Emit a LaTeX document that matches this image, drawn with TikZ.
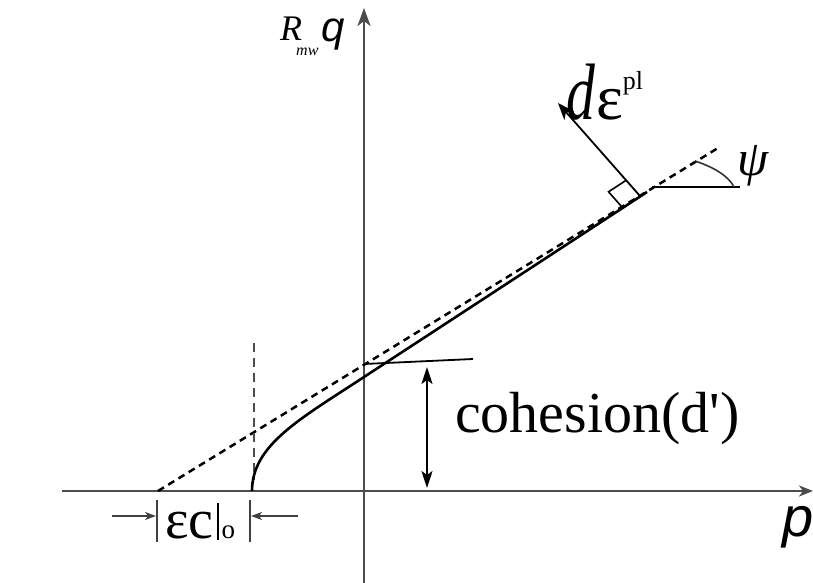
\documentclass[tikz,border=0pt]{standalone}
\usepackage{fontspec}
\usepackage{graphicx}
\setmainfont{Liberation Serif}
\newfontfamily\sansit{Liberation Sans}
\usetikzlibrary{arrows.meta}
\tikzset{
  axis/.style={line width=2.4pt, draw=black!70},
  curve/.style={line width=2.6pt, draw=black},
  dashline/.style={line width=2.5pt, draw=black, dash pattern=on 7pt off 5pt},
  vdash/.style={line width=2.2pt, draw=black!70, dash pattern=on 9pt off 6pt},
  thin/.style={line width=1.8pt, draw=black},
  dimarrow/.style={line width=1.6pt, draw=black!75, -{Stealth[length=11pt,width=8pt,inset=3pt]}},
  lbl/.style={inner sep=0pt, anchor=base west}
}
\begin{document}
\begin{tikzpicture}[x=1pt,y=-1pt]
\useasboundingbox (0,0) rectangle (813,583);
% coordinates
\coordinate (xs) at (62,491);
\coordinate (xe) at (813,491);
\coordinate (ys) at (364,583);
\coordinate (ye) at (364,8);
\coordinate (c0) at (252,491);
\coordinate (c1) at (364,377);
\coordinate (c2) at (647,192);
\coordinate (d0) at (158,491);
\coordinate (d1) at (718,148);
\coordinate (v0) at (254,343);
\coordinate (v1) at (254,480);
\coordinate (t0) at (364,364);
\coordinate (t1) at (473,359);
\coordinate (h0) at (427,367);
\coordinate (h1) at (427,488);
\coordinate (F) at (640,196);
\coordinate (N) at (558,103);
\coordinate (P1) at (622.4,207.5);
\coordinate (P2) at (608.5,191.8);
\coordinate (P3) at (626.1,180.3);
\coordinate (a0) at (652,187);
\coordinate (a1) at (740,187);
\coordinate (s0) at (695,161);
\coordinate (s1) at (734,187);
\coordinate (b1t) at (157,500);
\coordinate (b1b) at (157,542);
\coordinate (b2t) at (250,500);
\coordinate (b2b) at (250,542);
\coordinate (la0) at (112,516);
\coordinate (la1) at (156,516);
\coordinate (ra0) at (298,516);
\coordinate (ra1) at (251,516);
% axes
\draw[axis, -{Stealth[length=14pt,width=11pt,inset=4pt]}] (xs) -- (xe);
\draw[axis, -{Stealth[length=18pt,width=13pt,inset=5pt]}] (ys) -- (ye);
% dashed line
\draw[dashline] (d0) -- (d1);
% vertical dashed
\draw[vdash] (v0) -- (v1);
% solid curve
\draw[curve] (c0) .. controls (252,445) and (300,419) .. (c1) -- (c2);
% tangent
\draw[thin] (t0) -- (t1);
% cohesion double arrow
\draw[thin, {Stealth[length=17pt,width=11pt,inset=4pt]}-{Stealth[length=17pt,width=11pt,inset=4pt]}] (h0) -- (h1);
% normal arrow
\draw[thin, -{Stealth[length=17pt,width=13pt,inset=5pt]}] (F) -- (N);
\draw[line width=1.6pt] (P1) -- (P2) -- (P3);
% psi angle
\draw[thin] (a0) -- (a1);
\draw[line width=1.6pt, draw=black!80] (s0) .. controls (716,168) and (729,177) .. (s1);
% dimension bars
\draw[line width=2pt, draw=black!75] (b1t) -- (b1b);
\draw[line width=2pt, draw=black!75] (b2t) -- (b2b);
\draw[dimarrow] (la0) -- (la1);
\draw[dimarrow] (ra0) -- (ra1);
% labels
\node[lbl] (coh) at (455,432) {\fontsize{58}{58}\selectfont cohesion(d\textquotesingle)};
\node[lbl] (eps) at (165,538) {\fontsize{56}{56}\selectfont εc\kern3pt\rule[-2pt]{2pt}{37pt}\kern3pt{\fontsize{27}{27}\selectfont o}};
\node[lbl] (R) at (280,41) {\fontsize{36}{36}\selectfont\itshape R};
\node[lbl] (mw) at (296,56) {\fontsize{16}{16}\selectfont\itshape mw};
\node[lbl] (q) at (321,42) {\fontsize{42}{42}\sansit\itshape q};
\node[lbl] (psi) at (737,175) {\fontsize{50}{50}\selectfont\itshape ψ};
\node[lbl] (p) at (782,536) {\fontsize{56}{56}\sansit\itshape p};
\node[lbl] (de) at (566,120) {\scalebox{0.72}[1]{\fontsize{80}{80}\selectfont\itshape d}\kern1pt{\fontsize{64}{64}\selectfont ε}\raisebox{30pt}{\fontsize{26}{26}\selectfont pl}};
\end{tikzpicture}
\end{document}
